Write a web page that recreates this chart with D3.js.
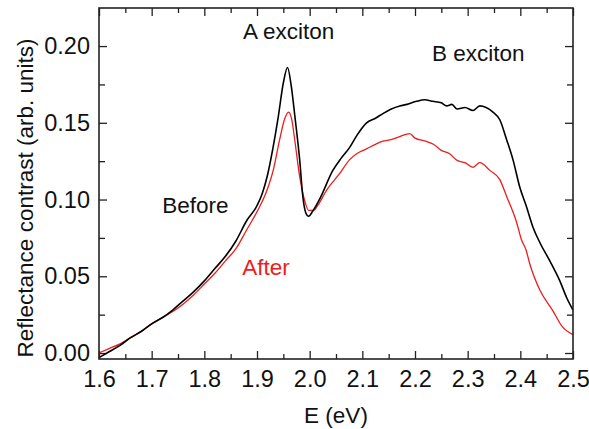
<!DOCTYPE html>
<meta charset="utf-8">
<style>
body { margin: 0; background: #fff; }
svg text { font-family: "Liberation Sans", Arial, sans-serif; }
.frame { fill: none; stroke: #222; stroke-width: 1.6px; }
.axis path { display: none; }
.axis line { stroke: #222; stroke-width: 1.3px; }
.axis text { font-size: 23.5px; fill: #111; }
.curve { fill: none; stroke-linejoin: round; }
</style>
<body>
<svg id="chart" width="589" height="429"></svg>
<script src="https://d3js.org/d3.v7.min.js"></script>
<script>

// spectrum before treatment (black)
var beforeE = [1.60,1.62,1.64,1.66,1.68,1.70,1.72,1.74,1.76,1.78,1.80,1.82,1.84,1.86,1.88,1.90,1.91,1.92,1.93,1.94,1.95,1.958,1.965,1.972,1.981,1.987,1.993,1.998,2.005,2.02,2.044,2.06,2.076,2.09,2.108,2.125,2.139,2.155,2.171,2.185,2.203,2.218,2.234,2.25,2.26,2.27,2.28,2.295,2.31,2.323,2.335,2.348,2.361,2.374,2.386,2.399,2.412,2.424,2.437,2.456,2.475,2.488,2.50];
var beforeR = [-0.003,0.001,0.005,0.010,0.014,0.019,0.023,0.028,0.034,0.040,0.047,0.055,0.063,0.073,0.086,0.096,0.104,0.116,0.133,0.153,0.176,0.186,0.174,0.154,0.126,0.102,0.091,0.089,0.092,0.101,0.119,0.127,0.134,0.142,0.150,0.153,0.156,0.159,0.161,0.162,0.164,0.165,0.164,0.163,0.161,0.162,0.159,0.160,0.158,0.161,0.160,0.157,0.152,0.139,0.126,0.108,0.095,0.082,0.072,0.060,0.047,0.036,0.028];

// spectrum after treatment (red)
var afterE = [1.60,1.62,1.64,1.66,1.68,1.70,1.72,1.74,1.76,1.78,1.80,1.82,1.84,1.86,1.88,1.90,1.92,1.93,1.943,1.952,1.96,1.966,1.972,1.981,1.99,1.998,2.008,2.015,2.032,2.057,2.076,2.09,2.108,2.125,2.139,2.155,2.171,2.19,2.20,2.22,2.235,2.25,2.265,2.28,2.295,2.31,2.323,2.342,2.361,2.374,2.393,2.402,2.411,2.418,2.437,2.461,2.48,2.50];
var afterR = [0.000,0.003,0.006,0.010,0.014,0.019,0.023,0.027,0.032,0.038,0.045,0.052,0.060,0.068,0.080,0.092,0.107,0.118,0.139,0.152,0.157,0.152,0.138,0.115,0.100,0.093,0.093,0.096,0.106,0.117,0.126,0.130,0.133,0.136,0.138,0.139,0.141,0.143,0.140,0.138,0.136,0.132,0.130,0.1255,0.124,0.121,0.124,0.119,0.113,0.102,0.085,0.074,0.067,0.058,0.041,0.028,0.017,0.012];

var xTicks = [1.6,1.7,1.8,1.9,2.0,2.1,2.2,2.3,2.4,2.5];
var yTicks = [0.00,0.05,0.10,0.15,0.20];
var xMinor = [1.65,1.75,1.85,1.95,2.05,2.15,2.25,2.35,2.45];
var yMinor = [0.025,0.075,0.125,0.175];

var margin = {left: 99, top: 8, right: 16, bottom: 70},
    width = 589 - margin.left - margin.right,
    height = 429 - margin.top - margin.bottom;

var svg = d3.select("#chart");
var g = svg.append("g").attr("transform", "translate(" + margin.left + "," + margin.top + ")");

var x = d3.scaleLinear().domain([1.6, 2.5]).range([0, width]);
var y = d3.scaleLinear().domain([-0.0039, 0.2248]).range([height, 0]);

// major ticks with labels
g.append("g").attr("class", "axis")
  .attr("transform", "translate(0," + height + ")")
  .call(d3.axisBottom(x).tickValues(xTicks).tickFormat(d3.format(".1f")).tickSizeInner(-8).tickSizeOuter(0).tickPadding(11));
g.append("g").attr("class", "axis")
  .call(d3.axisLeft(y).tickValues(yTicks).tickFormat(d3.format(".2f")).tickSizeInner(-8).tickSizeOuter(0).tickPadding(9));
g.append("g").attr("class", "axis")
  .call(d3.axisTop(x).tickValues(xTicks).tickFormat("").tickSizeInner(-8).tickSizeOuter(0));
g.append("g").attr("class", "axis")
  .attr("transform", "translate(" + width + ",0)")
  .call(d3.axisRight(y).tickValues(yTicks).tickFormat("").tickSizeInner(-8).tickSizeOuter(0));

// minor ticks
g.append("g").attr("class", "axis")
  .attr("transform", "translate(0," + height + ")")
  .call(d3.axisBottom(x).tickValues(xMinor).tickFormat("").tickSizeInner(-5).tickSizeOuter(0));
g.append("g").attr("class", "axis")
  .call(d3.axisTop(x).tickValues(xMinor).tickFormat("").tickSizeInner(-5).tickSizeOuter(0));
g.append("g").attr("class", "axis")
  .call(d3.axisLeft(y).tickValues(yMinor).tickFormat("").tickSizeInner(-6).tickSizeOuter(0));
g.append("g").attr("class", "axis")
  .attr("transform", "translate(" + width + ",0)")
  .call(d3.axisRight(y).tickValues(yMinor).tickFormat("").tickSizeInner(-6).tickSizeOuter(0));

var line = d3.line()
  .x(function(d) { return x(d[0]); })
  .y(function(d) { return y(d[1]); })
  .curve(d3.curveMonotoneX);

g.append("path")
  .datum(d3.zip(afterE, afterR))
  .attr("class", "curve")
  .attr("stroke", "#ee1c1c")
  .attr("stroke-width", 1.3)
  .attr("d", line);

g.append("path")
  .datum(d3.zip(beforeE, beforeR))
  .attr("class", "curve")
  .attr("stroke", "#000")
  .attr("stroke-width", 1.6)
  .attr("d", line);

g.append("rect").attr("class", "frame")
  .attr("width", width).attr("height", height);

// annotations
var notes = [
  {t: "A exciton", x: 1.96, y: 0.2045, c: "#111"},
  {t: "B exciton", x: 2.32, y: 0.1905, c: "#111"},
  {t: "Before", x: 1.783, y: 0.0915, c: "#111"},
  {t: "After", x: 1.917, y: 0.0508, c: "#ee1c1c"}
];
g.selectAll(".note").data(notes).enter().append("text")
  .attr("class", "note")
  .attr("x", function(d) { return x(d.x); })
  .attr("y", function(d) { return y(d.y); })
  .attr("text-anchor", "middle")
  .style("font-size", "22.5px")
  .style("fill", function(d) { return d.c; })
  .text(function(d) { return d.t; });

svg.append("text")
  .attr("transform", "translate(33," + (margin.top + 190) + ") rotate(-90)")
  .attr("text-anchor", "middle")
  .style("font-size", "22.5px")
  .style("fill", "#111")
  .text("Reflectance contrast (arb. units)");

svg.append("text")
  .attr("x", margin.left + width / 2)
  .attr("y", 423)
  .attr("text-anchor", "middle")
  .style("font-size", "22.5px")
  .style("fill", "#111")
  .text("E (eV)");

</script>
</body>
</html>
